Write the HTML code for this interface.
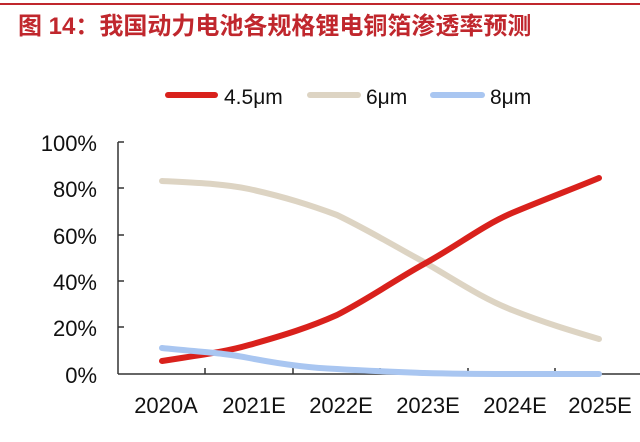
<!DOCTYPE html>
<html><head><meta charset="utf-8"><style>
body{margin:0;background:#fff;width:640px;height:437px;overflow:hidden}
</style></head><body>
<svg width="640" height="437" xmlns="http://www.w3.org/2000/svg" font-family="Liberation Sans, Arial, sans-serif">
<rect width="640" height="437" fill="#fff"/>
<line x1="0" y1="4" x2="640" y2="4" stroke="#c0272d" stroke-width="2"/>
<text x="18" y="34" font-size="24" font-weight="bold" fill="#c0272d" font-family="Liberation Sans, Noto Sans CJK SC, sans-serif">图 14：我国动力电池各规格锂电铜箔渗透率预测</text>
<line x1="168" y1="95" x2="215" y2="95" stroke="#d9211c" stroke-width="6" stroke-linecap="round"/>
<text x="224" y="104" font-size="21" fill="#111">4.5μm</text>
<line x1="310" y1="95" x2="358" y2="95" stroke="#ddd4c3" stroke-width="6" stroke-linecap="round"/>
<text x="366" y="104" font-size="21" fill="#111">6μm</text>
<line x1="433" y1="95" x2="482" y2="95" stroke="#a9c6f1" stroke-width="6" stroke-linecap="round"/>
<text x="490" y="104" font-size="21" fill="#111">8μm</text>
<g stroke="#333" stroke-width="1.5" fill="none">
<line x1="118" y1="142" x2="118" y2="374"/>
<line x1="118" y1="374" x2="640" y2="374"/>
<line x1="118" y1="142" x2="124" y2="142"/><line x1="118" y1="188" x2="124" y2="188"/>
<line x1="118" y1="235" x2="124" y2="235"/><line x1="118" y1="281" x2="124" y2="281"/>
<line x1="118" y1="327" x2="124" y2="327"/>
<line x1="205" y1="374" x2="205" y2="368"/><line x1="293" y1="374" x2="293" y2="368"/>
<line x1="380" y1="374" x2="380" y2="368"/><line x1="468" y1="374" x2="468" y2="368"/>
<line x1="555" y1="374" x2="555" y2="368"/>
</g>
<g font-size="22" fill="#111" text-anchor="end">
<text x="97" y="151">100%</text><text x="97" y="197">80%</text><text x="97" y="244">60%</text>
<text x="97" y="290">40%</text><text x="97" y="336">20%</text><text x="97" y="383">0%</text>
</g>
<g font-size="22" fill="#111" text-anchor="middle">
<text x="166" y="413">2020A</text><text x="254" y="413">2021E</text><text x="341" y="413">2022E</text>
<text x="428" y="413">2023E</text><text x="515" y="413">2024E</text><text x="600" y="413">2025E</text>
</g>
<g fill="none" stroke-width="6" stroke-linecap="round" stroke-linejoin="round">
<path d="M162,181 C200,183 225,184 249,189 C285,197 310,205 337,215 C370,231 398,248 424,262 C460,283 482,298 512,310 C545,323 572,331 599,339" stroke="#ddd4c3"/>
<path d="M162,361 C200,355 225,352 249,345 C285,335 310,327 337,315 C370,298 395,280 424,264 C460,244 482,226 512,213 C548,198 575,188 599,178" stroke="#d9211c"/>
<path d="M162,348 C200,352 225,353 249,358 C285,365 310,368 337,369 C370,371 398,372 424,373 C460,374 482,374 512,374 C545,374 572,374 599,374" stroke="#a9c6f1"/>
</g>
</svg>
</body></html>
